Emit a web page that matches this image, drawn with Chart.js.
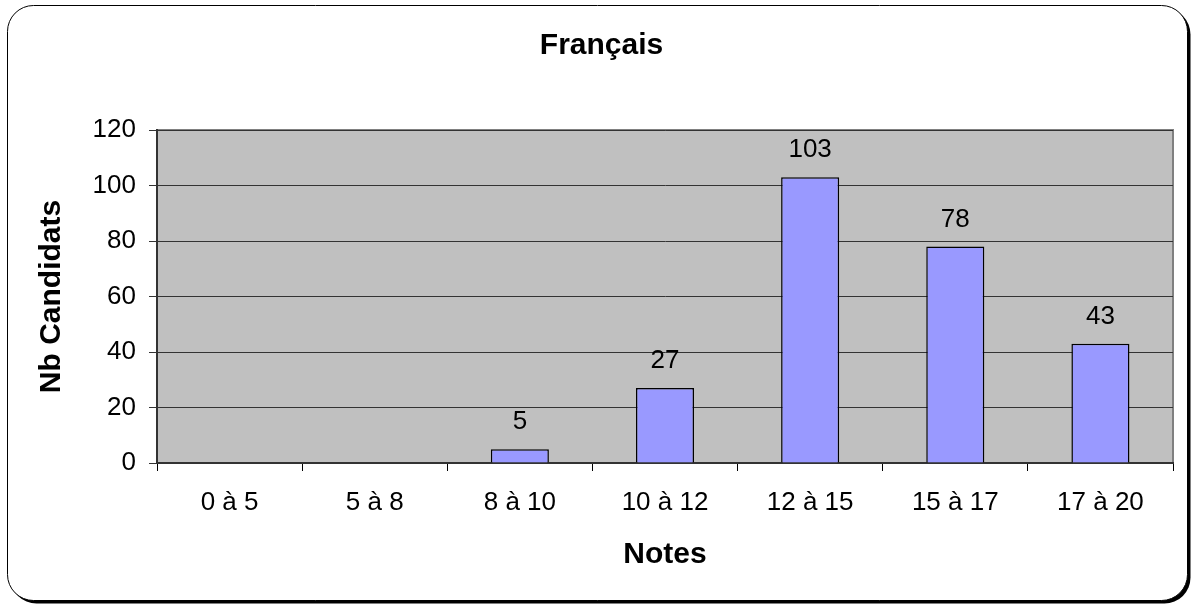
<!DOCTYPE html>
<html>
<head>
<meta charset="utf-8">
<title>Français</title>
<script src="https://cdn.jsdelivr.net/npm/chart.js@4"></script>
<style>
  html, body { margin: 0; padding: 0; background: #fff; }
  #wrap { width: 1192px; height: 607px; }
</style>
</head>
<body>
<div id="wrap"><canvas id="chart" width="1192" height="607"></canvas></div>
<script>
// data
const categories = ['0 à 5', '5 à 8', '8 à 10', '10 à 12', '12 à 15', '15 à 17', '17 à 20'];
const candidats = [null, null, 5, 27, 103, 78, 43];
const yTicks = [0, 20, 40, 60, 80, 100, 120];

const FONT = 'Arial, "Liberation Sans", sans-serif';

// rounded frame with shadow + grey plot background
const framePlugin = {
  id: 'frame',
  beforeDraw(chart) {
    const ctx = chart.ctx;
    const a = chart.chartArea;
    ctx.save();
    ctx.fillStyle = '#fff';
    ctx.fillRect(0, 0, chart.width, chart.height);
    // shadow
    ctx.beginPath();
    ctx.roundRect(10.5, 8.5, 1180, 595, 26);
    ctx.fillStyle = '#000';
    ctx.fill();
    ctx.beginPath();
    ctx.roundRect(7.5, 5.5, 1180, 595, 26);
    ctx.fillStyle = '#fff';
    ctx.fill();
    ctx.lineWidth = 1;
    ctx.strokeStyle = '#000';
    ctx.stroke();
    // plot area
    ctx.fillStyle = '#c0c0c0';
    ctx.fillRect(a.left, a.top, a.right - a.left, a.bottom - a.top);
    ctx.strokeStyle = '#808080';
    ctx.lineWidth = 2;
    ctx.strokeRect(a.left, a.top, a.right - a.left, a.bottom - a.top);
    ctx.restore();
  }
};

// value labels above the bars
const valueLabels = {
  id: 'valueLabels',
  afterDatasetsDraw(chart) {
    const ctx = chart.ctx;
    const meta = chart.getDatasetMeta(0);
    ctx.save();
    ctx.font = '26px ' + FONT;
    ctx.fillStyle = '#000';
    ctx.textAlign = 'center';
    ctx.textBaseline = 'middle';
    meta.data.forEach((bar, i) => {
      const v = candidats[i];
      if (v === null) return;
      ctx.fillText(String(v), bar.x, bar.y - 27);
    });
    ctx.restore();
  }
};

new Chart(document.getElementById('chart'), {
  type: 'bar',
  data: {
    labels: categories,
    datasets: [{
      data: candidats,
      backgroundColor: '#9999ff',
      borderColor: '#000',
      borderWidth: 1.5,
      categoryPercentage: 1,
      barPercentage: 0.4
    }]
  },
  options: {
    responsive: false,
    animation: false,
    layout: { padding: { left: 30, right: 19, top: 10, bottom: 28 } },
    plugins: {
      legend: { display: false },
      tooltip: { enabled: false },
      title: {
        display: true,
        text: 'Français',
        color: '#000',
        font: { family: FONT, size: 30, weight: 'bold' },
        padding: { top: 18, bottom: 66 }
      }
    },
    scales: {
      x: {
        grid: { drawOnChartArea: false, drawTicks: true, tickLength: 8, color: '#000', offset: true },
        border: { color: '#333', width: 2 },
        ticks: { color: '#000', padding: 16, maxRotation: 0, font: { family: FONT, size: 26 } },
        title: {
          display: true, text: 'Notes', color: '#000',
          font: { family: FONT, size: 30, weight: 'bold' },
          padding: { top: 4, bottom: 6 }
        },
        afterFit(scale) { scale.height = 116; }
      },
      y: {
        min: 0, max: 120,
        afterBuildTicks(scale) { scale.ticks = yTicks.map(v => ({ value: v })); },
        grid: { color: '#333', tickLength: 8, lineWidth: 1 },
        border: { color: '#333', width: 2 },
        ticks: { color: '#000', padding: 13, font: { family: FONT, size: 26 } },
        title: {
          display: true, text: 'Nb Candidats', color: '#000',
          font: { family: FONT, size: 30, weight: 'bold' },
          padding: { top: 4, bottom: 4 }
        },
        afterFit(scale) { scale.width = 127; }
      }
    }
  },
  plugins: [framePlugin, valueLabels]
});
</script>
</body>
</html>
